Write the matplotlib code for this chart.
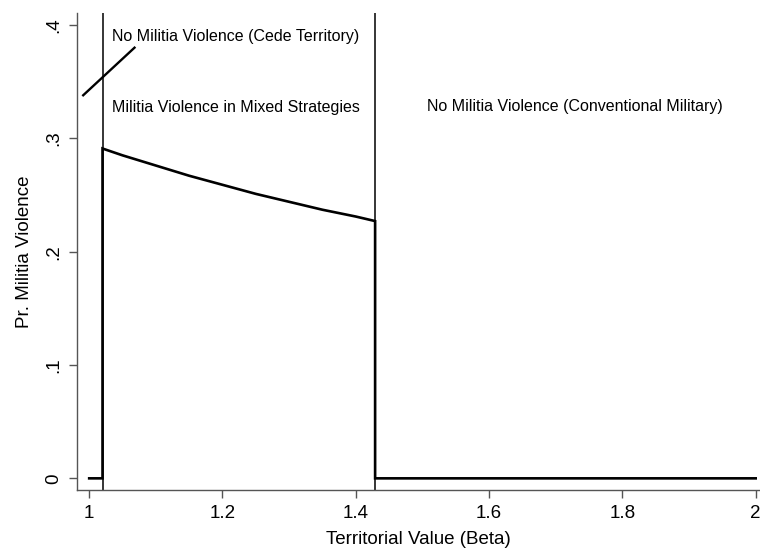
import matplotlib
matplotlib.use("Agg")
import matplotlib.pyplot as plt

# ===============================
# DATA
# ===============================
beta = [1.0, 1.02, 1.02, 1.05, 1.10, 1.15, 1.20, 1.25, 1.30, 1.35, 1.40, 1.429, 1.429, 1.6, 1.8, 2.0]
pr_violence = [0.0, 0.0, 0.291, 0.285, 0.276, 0.267, 0.259, 0.251, 0.244, 0.237, 0.231, 0.227, 0.0, 0.0, 0.0, 0.0]

thresholds = [1.02, 1.429]

x_ticks = [1.0, 1.2, 1.4, 1.6, 1.8, 2.0]
x_ticklabels = ["1", "1.2", "1.4", "1.6", "1.8", "2"]
y_ticks = [0.0, 0.1, 0.2, 0.3, 0.4]
y_ticklabels = ["0", ".1", ".2", ".3", ".4"]

region_labels = [
    ("No Militia Violence (Cede Territory)", 1.220, 0.390),
    ("Militia Violence in Mixed Strategies", 1.220, 0.327),
    ("No Militia Violence (Conventional Military)", 1.729, 0.328),
]
pointer_x = [0.991, 1.068]
pointer_y = [0.338, 0.380]

# ===============================
# PLOT
# ===============================
plt.rcParams["font.family"] = ["Liberation Sans", "DejaVu Sans"]

fig = plt.figure(figsize=(7.6, 5.48), dpi=100)
ax = fig.add_axes([0.1007, 0.1058, 0.8993, 0.8705])

for t in thresholds:
    ax.axvline(t, color="black", lw=1.1)

ax.plot(beta, pr_violence, color="black", lw=1.9, solid_joinstyle="miter")
ax.plot(pointer_x, pointer_y, color="black", lw=1.7)

for txt, xx, yy in region_labels:
    ax.text(xx, yy, txt, ha="center", va="center", fontsize=11.5)

ax.set_xlim(0.981, 2.0065)
ax.set_ylim(-0.0103, 0.4106)
ax.set_xticks(x_ticks)
ax.set_xticklabels(x_ticklabels)
ax.set_yticks(y_ticks)
ax.set_yticklabels(y_ticklabels, rotation=90, va="center")

spine_col = "#555555"
for side in ["top", "right"]:
    ax.spines[side].set_visible(False)
for side in ["left", "bottom"]:
    ax.spines[side].set_color(spine_col)
    ax.spines[side].set_linewidth(1.0)
ax.tick_params(axis="both", colors=spine_col, labelcolor="black",
               length=6, width=1.0, labelsize=13.5)
ax.tick_params(axis="x", pad=4.5)
ax.tick_params(axis="y", pad=4)

ax.set_xlabel("Territorial Value (Beta)", fontsize=13.5, labelpad=7)
ax.set_ylabel("Pr. Militia Violence", fontsize=13.5, labelpad=9)

fig.savefig("out.png", dpi=100)
